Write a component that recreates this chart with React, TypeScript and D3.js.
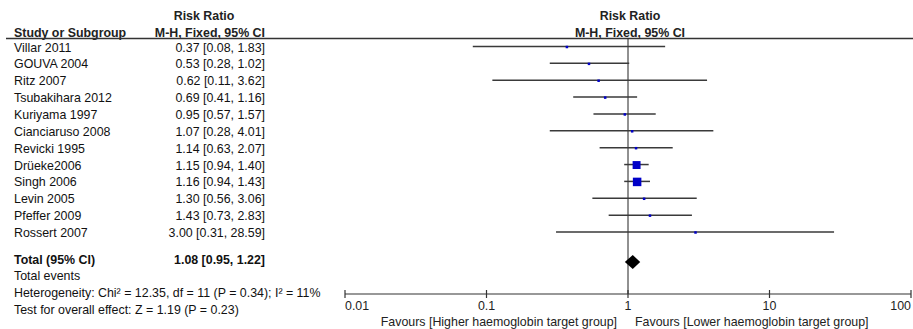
import React from "react";
import * as d3 from "d3";

// study rows
const studies = [
  "Villar 2011",
  "GOUVA  2004",
  "Ritz 2007",
  "Tsubakihara 2012",
  "Kuriyama 1997",
  "Cianciaruso 2008",
  "Revicki 1995",
  "Drüeke2006",
  "Singh 2006",
  "Levin 2005",
  "Pfeffer 2009",
  "Rossert 2007",
];
const rr = [0.37, 0.53, 0.62, 0.69, 0.95, 1.07, 1.14, 1.15, 1.16, 1.3, 1.43, 3.0];
const lower = [0.08, 0.28, 0.11, 0.41, 0.57, 0.28, 0.63, 0.94, 0.94, 0.56, 0.73, 0.31];
const upper = [1.83, 1.02, 3.62, 1.16, 1.57, 4.01, 2.07, 1.4, 1.43, 3.06, 2.83, 28.59];
// estimated weights (%) from marker sizes
const weights = [1.0, 3.0, 0.8, 3.5, 3.3, 1.0, 2.2, 37.8, 43.4, 1.6, 2.0, 0.4];

const total = { rr: 1.08, lo: 0.95, hi: 1.22 };
const tickValues = [0.01, 0.1, 1, 10, 100];
const tickLabels = ["0.01", "0.1", "1", "10", "100"];
const footer = [
  "Total events",
  "Heterogeneity: Chi² = 12.35, df = 11 (P = 0.34); I² = 11%",
  "Test for overall effect: Z = 1.19 (P = 0.23)",
];

const W = 913;
const H = 329;
const font = "'Liberation Sans', Arial, sans-serif";

export default function App() {
  const x = d3.scaleLog().domain([0.01, 100]).range([345, 911]);
  const y = d3.scaleLinear().domain([0, 11]).range([46.5, 232]);
  const size = d3.scaleSqrt().domain([0, d3.max(weights) as number]).range([0, 8.5]);
  const fmt = (v: number) => v.toFixed(2);

  const axisY = 294;
  const diamondY = 262;
  const one = x(1);
  const textX = 14;
  const valX = 265;

  return (
    <svg
      width={W}
      height={H}
      style={{ position: "absolute", left: 0, top: 0, background: "#fff" }}
      fontFamily={font}
      fontSize={12.4}
    >
      {/* headers */}
      <g fontWeight="bold" fill="#222">
        <text x={204} y={20} textAnchor="middle">Risk Ratio</text>
        <text x={textX} y={37}>Study or Subgroup</text>
        <text x={valX} y={37} textAnchor="end">M-H, Fixed, 95% CI</text>
        <text x={630} y={20} textAnchor="middle">Risk Ratio</text>
        <text x={630} y={37} textAnchor="middle">M-H, Fixed, 95% CI</text>
      </g>
      <line x1={6} x2={913} y1={38.5} y2={38.5} stroke="#333" strokeWidth={1.5} />

      {/* left table */}
      {studies.map((s, i) => (
        <g key={s} fill="#111">
          <text x={textX} y={y(i) + 5}>{s}</text>
          <text x={valX} y={y(i) + 5} textAnchor="end">
            {`${fmt(rr[i])} [${fmt(lower[i])}, ${fmt(upper[i])}]`}
          </text>
        </g>
      ))}
      <g fontWeight="bold" fill="#111">
        <text x={textX} y={263.5}>Total (95% CI)</text>
        <text x={valX} y={263.5} textAnchor="end">
          {`${fmt(total.rr)} [${fmt(total.lo)}, ${fmt(total.hi)}]`}
        </text>
      </g>
      {footer.map((t, i) => (
        <text key={t} x={textX} y={280 + i * 17} fill="#111">{t}</text>
      ))}

      {/* reference line */}
      <line x1={one} x2={one} y1={38.5} y2={axisY} stroke="#222" strokeWidth={1} />

      {/* CIs and markers */}
      {studies.map((s, i) => {
        const sz = Math.max(2.5, size(weights[i]));
        return (
          <g key={s}>
            <line
              x1={x(lower[i])}
              x2={x(upper[i])}
              y1={y(i)}
              y2={y(i)}
              stroke="#3a3a3a"
              strokeWidth={1.5}
            />
            <rect
              x={x(rr[i]) - sz / 2}
              y={y(i) + 0.5 - sz / 2}
              width={sz}
              height={sz}
              fill="#0000c8"
            />
          </g>
        );
      })}

      {/* pooled diamond */}
      <path
        d={`M${x(total.lo)},${diamondY} L${x(total.rr)},${diamondY - 7} L${x(total.hi)},${diamondY} L${x(total.rr)},${diamondY + 7} Z`}
        fill="#000"
      />

      {/* axis */}
      <line x1={x(0.01)} x2={x(100)} y1={axisY} y2={axisY} stroke="#333" strokeWidth={1.2} />
      {tickValues.map((t, i) => (
        <g key={t}>
          <line x1={x(t)} x2={x(t)} y1={axisY - 4} y2={axisY + 4} stroke="#333" strokeWidth={1.2} />
          <text
            x={x(t)}
            y={axisY + 16}
            textAnchor={i === 0 ? "start" : i === tickValues.length - 1 ? "end" : "middle"}
            fill="#222"
          >
            {tickLabels[i]}
          </text>
        </g>
      ))}
      <text x={one - 11} y={326} textAnchor="end" fill="#222">
        Favours [Higher haemoglobin target group]
      </text>
      <text x={one + 7} y={326} fill="#222">
        Favours [Lower haemoglobin target group]
      </text>
    </svg>
  );
}
